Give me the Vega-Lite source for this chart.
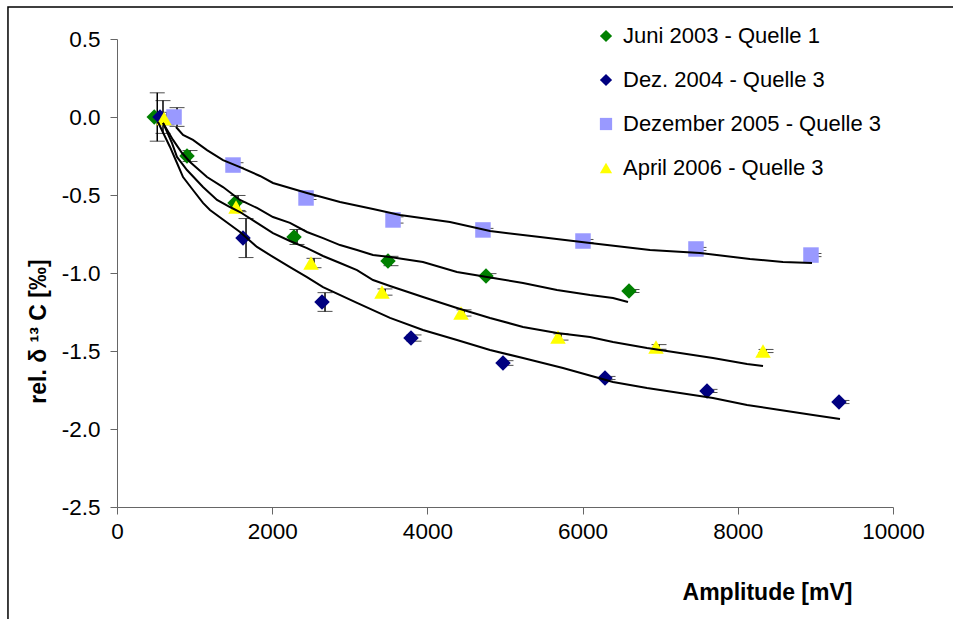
{
  "$schema": "https://vega.github.io/schema/vega-lite/v6.json",
  "width": 776,
  "height": 468,
  "autosize": "none",
  "padding": {"left": 117, "top": 39, "right": 60, "bottom": 112},
  "background": "white",
  "config": {
    "view": {"stroke": null},
    "font": "Liberation Sans",
    "locale": {"number": {"decimal": ".", "thousands": "", "grouping": [3], "currency": ["", ""], "minus": "-"}}
  },
  "datasets": {
    "pts": [
      {"series": "Juni 2003 - Quelle 1", "x": 480, "y": 0.0, "err": 0.155},
      {"series": "Juni 2003 - Quelle 1", "x": 902, "y": -0.25, "err": 0.035},
      {"series": "Juni 2003 - Quelle 1", "x": 1521, "y": -0.551, "err": 0.048},
      {"series": "Juni 2003 - Quelle 1", "x": 2281, "y": -0.769, "err": 0.048},
      {"series": "Juni 2003 - Quelle 1", "x": 3492, "y": -0.923, "err": 0.03},
      {"series": "Juni 2003 - Quelle 1", "x": 4755, "y": -1.019, "err": 0.015},
      {"series": "Juni 2003 - Quelle 1", "x": 6598, "y": -1.115, "err": 0.01},
      {"series": "Dez. 2004 - Quelle 3", "x": 554, "y": 0.0, "err": 0.105},
      {"series": "Dez. 2004 - Quelle 3", "x": 1624, "y": -0.776, "err": 0.125},
      {"series": "Dez. 2004 - Quelle 3", "x": 2642, "y": -1.186, "err": 0.06},
      {"series": "Dez. 2004 - Quelle 3", "x": 3789, "y": -1.417, "err": 0.02},
      {"series": "Dez. 2004 - Quelle 3", "x": 4974, "y": -1.577, "err": 0.015},
      {"series": "Dez. 2004 - Quelle 3", "x": 6289, "y": -1.673, "err": 0.01},
      {"series": "Dez. 2004 - Quelle 3", "x": 7603, "y": -1.756, "err": 0.01},
      {"series": "Dez. 2004 - Quelle 3", "x": 9304, "y": -1.827, "err": 0.01},
      {"series": "Dezember 2005 - Quelle 3", "x": 735, "y": 0.0, "err": 0.06},
      {"series": "Dezember 2005 - Quelle 3", "x": 1495, "y": -0.308, "err": 0.015},
      {"series": "Dezember 2005 - Quelle 3", "x": 2436, "y": -0.519, "err": 0.01},
      {"series": "Dezember 2005 - Quelle 3", "x": 3557, "y": -0.66, "err": 0.02},
      {"series": "Dezember 2005 - Quelle 3", "x": 4716, "y": -0.724, "err": 0.01},
      {"series": "Dezember 2005 - Quelle 3", "x": 6005, "y": -0.795, "err": 0.01},
      {"series": "Dezember 2005 - Quelle 3", "x": 7461, "y": -0.846, "err": 0.01},
      {"series": "Dezember 2005 - Quelle 3", "x": 8943, "y": -0.885, "err": 0.01},
      {"series": "April 2006 - Quelle 3", "x": 606, "y": -0.01, "err": 0.04},
      {"series": "April 2006 - Quelle 3", "x": 1534, "y": -0.577, "err": 0.03},
      {"series": "April 2006 - Quelle 3", "x": 2500, "y": -0.936, "err": 0.03},
      {"series": "April 2006 - Quelle 3", "x": 3415, "y": -1.122, "err": 0.02},
      {"series": "April 2006 - Quelle 3", "x": 4433, "y": -1.256, "err": 0.02},
      {"series": "April 2006 - Quelle 3", "x": 5683, "y": -1.41, "err": 0.02},
      {"series": "April 2006 - Quelle 3", "x": 6946, "y": -1.474, "err": 0.015},
      {"series": "April 2006 - Quelle 3", "x": 8325, "y": -1.5, "err": 0.01}
    ],
    "fits": [
      {"c": "p", "x": 760, "y": -0.064}, {"c": "p", "x": 851, "y": -0.115}, {"c": "p", "x": 979, "y": -0.147},
      {"c": "p", "x": 1160, "y": -0.212}, {"c": "p", "x": 1366, "y": -0.276}, {"c": "p", "x": 1585, "y": -0.321},
      {"c": "p", "x": 1843, "y": -0.378}, {"c": "p", "x": 2010, "y": -0.423}, {"c": "p", "x": 2448, "y": -0.487},
      {"c": "p", "x": 2874, "y": -0.545}, {"c": "p", "x": 3299, "y": -0.59}, {"c": "p", "x": 3647, "y": -0.628},
      {"c": "p", "x": 4291, "y": -0.673}, {"c": "p", "x": 4807, "y": -0.731}, {"c": "p", "x": 5451, "y": -0.769},
      {"c": "p", "x": 6095, "y": -0.808}, {"c": "p", "x": 6869, "y": -0.853}, {"c": "p", "x": 7513, "y": -0.872},
      {"c": "p", "x": 8157, "y": -0.91}, {"c": "p", "x": 8582, "y": -0.929}, {"c": "p", "x": 8956, "y": -0.936},
      {"c": "g", "x": 593, "y": -0.038}, {"c": "g", "x": 722, "y": -0.147}, {"c": "g", "x": 838, "y": -0.231},
      {"c": "g", "x": 941, "y": -0.288}, {"c": "g", "x": 1160, "y": -0.385}, {"c": "g", "x": 1366, "y": -0.449},
      {"c": "g", "x": 1585, "y": -0.532}, {"c": "g", "x": 1804, "y": -0.583}, {"c": "g", "x": 2010, "y": -0.641},
      {"c": "g", "x": 2229, "y": -0.679}, {"c": "g", "x": 2448, "y": -0.737}, {"c": "g", "x": 2655, "y": -0.776},
      {"c": "g", "x": 2874, "y": -0.821}, {"c": "g", "x": 3093, "y": -0.853}, {"c": "g", "x": 3299, "y": -0.885},
      {"c": "g", "x": 3518, "y": -0.897}, {"c": "g", "x": 3943, "y": -0.929}, {"c": "g", "x": 4381, "y": -0.994},
      {"c": "g", "x": 4768, "y": -1.026}, {"c": "g", "x": 5232, "y": -1.064}, {"c": "g", "x": 5670, "y": -1.109},
      {"c": "g", "x": 6095, "y": -1.141}, {"c": "g", "x": 6392, "y": -1.16}, {"c": "g", "x": 6585, "y": -1.186},
      {"c": "y", "x": 593, "y": -0.038}, {"c": "y", "x": 709, "y": -0.167}, {"c": "y", "x": 773, "y": -0.256},
      {"c": "y", "x": 902, "y": -0.34}, {"c": "y", "x": 1108, "y": -0.449}, {"c": "y", "x": 1289, "y": -0.532},
      {"c": "y", "x": 1456, "y": -0.577}, {"c": "y", "x": 1585, "y": -0.609}, {"c": "y", "x": 1804, "y": -0.679},
      {"c": "y", "x": 2010, "y": -0.744}, {"c": "y", "x": 2229, "y": -0.795}, {"c": "y", "x": 2448, "y": -0.84},
      {"c": "y", "x": 2655, "y": -0.891}, {"c": "y", "x": 2874, "y": -0.936}, {"c": "y", "x": 3093, "y": -0.981},
      {"c": "y", "x": 3299, "y": -1.045}, {"c": "y", "x": 3518, "y": -1.083}, {"c": "y", "x": 3943, "y": -1.154},
      {"c": "y", "x": 4381, "y": -1.224}, {"c": "y", "x": 4807, "y": -1.288}, {"c": "y", "x": 5232, "y": -1.346},
      {"c": "y", "x": 5670, "y": -1.385}, {"c": "y", "x": 6095, "y": -1.41}, {"c": "y", "x": 6392, "y": -1.442},
      {"c": "y", "x": 6830, "y": -1.481}, {"c": "y", "x": 7255, "y": -1.513}, {"c": "y", "x": 7680, "y": -1.545},
      {"c": "y", "x": 8119, "y": -1.583}, {"c": "y", "x": 8325, "y": -1.596},
      {"c": "b", "x": 528, "y": -0.032}, {"c": "b", "x": 683, "y": -0.192}, {"c": "b", "x": 773, "y": -0.295},
      {"c": "b", "x": 851, "y": -0.385}, {"c": "b", "x": 979, "y": -0.468}, {"c": "b", "x": 1108, "y": -0.551},
      {"c": "b", "x": 1198, "y": -0.596}, {"c": "b", "x": 1585, "y": -0.737}, {"c": "b", "x": 1804, "y": -0.833},
      {"c": "b", "x": 2010, "y": -0.897}, {"c": "b", "x": 2229, "y": -0.962}, {"c": "b", "x": 2448, "y": -1.026},
      {"c": "b", "x": 2655, "y": -1.09}, {"c": "b", "x": 3093, "y": -1.192}, {"c": "b", "x": 3518, "y": -1.288},
      {"c": "b", "x": 3943, "y": -1.365}, {"c": "b", "x": 4381, "y": -1.429}, {"c": "b", "x": 4807, "y": -1.494},
      {"c": "b", "x": 5232, "y": -1.545}, {"c": "b", "x": 5747, "y": -1.609}, {"c": "b", "x": 6392, "y": -1.699},
      {"c": "b", "x": 6830, "y": -1.737}, {"c": "b", "x": 7255, "y": -1.769}, {"c": "b", "x": 7680, "y": -1.801},
      {"c": "b", "x": 8119, "y": -1.846}, {"c": "b", "x": 8544, "y": -1.878}, {"c": "b", "x": 8969, "y": -1.91},
      {"c": "b", "x": 9317, "y": -1.936}
    ]
  },
  "layer": [
    {
      "data": {"values": [{}]},
      "mark": {"type": "rect", "fill": null, "stroke": "black", "strokeWidth": 1.5, "clip": false},
      "encoding": {
        "x": {"datum": -1405, "type": "quantitative", "title": "Amplitude [mV]"},
        "x2": {"datum": 12500},
        "y": {"datum": 0.705, "type": "quantitative", "title": "rel. δ ¹³ C [‰]"},
        "y2": {"datum": -3.6}
      }
    },
    {
      "data": {"name": "pts"},
      "mark": {"type": "errorbar", "color": "black", "ticks": {"size": 15, "xOffset": 3, "strokeWidth": 1.5}, "rule": {"xOffset": 3, "strokeWidth": 1.5}},
      "encoding": {
        "x": {"field": "x", "type": "quantitative", "title": "Amplitude [mV]"},
        "y": {"field": "y", "type": "quantitative", "title": "rel. δ ¹³ C [‰]"},
        "yError": {"field": "err"}
      }
    },
    {
      "data": {"name": "pts"},
      "mark": {"type": "point", "filled": true, "opacity": 1, "size": 240, "strokeWidth": 0},
      "encoding": {
        "x": {
          "field": "x", "type": "quantitative",
          "scale": {"domain": [0, 10000], "nice": false},
          "axis": {
            "values": [0, 2000, 4000, 6000, 8000, 10000], "format": "d", "grid": false,
            "title": "Amplitude [mV]", "domainColor": "#666", "tickColor": "#666", "tickSize": 7,
            "labelFontSize": 22.5, "labelColor": "black", "labelPadding": 6, "labelFlush": false,
            "titleFontSize": 23, "titleFontWeight": "bold", "titleColor": "black",
            "titleX": 650, "titleY": 85, "titleAlign": "center", "titleBaseline": "middle"
          }
        },
        "y": {
          "field": "y", "type": "quantitative",
          "scale": {"domain": [-2.5, 0.5], "nice": false},
          "axis": {
            "values": [-2.5, -2, -1.5, -1, -0.5, 0, 0.5], "format": ".1f", "grid": false,
            "title": "rel. δ ¹³ C [‰]", "domainColor": "#666", "tickColor": "#666", "tickSize": 7,
            "labelFontSize": 22.5, "labelColor": "black", "labelPadding": 10,
            "titleFontSize": 23, "titleFontWeight": "bold", "titleColor": "black",
            "titleX": -79, "titleY": 292, "titleAngle": -90, "titleAlign": "center", "titleBaseline": "middle"
          }
        },
        "color": {
          "field": "series", "type": "nominal",
          "scale": {
            "domain": ["Juni 2003 - Quelle 1", "Dez. 2004 - Quelle 3", "Dezember 2005 - Quelle 3", "April 2006 - Quelle 3"],
            "range": ["#008000", "#000080", "#9999FF", "#FFFF00"]
          },
          "legend": {
            "orient": "none", "legendX": 478, "legendY": -14, "title": null,
            "labelFontSize": 22, "labelColor": "black", "labelOffset": 6, "rowPadding": 22, "labelLimit": 0,
            "symbolSize": 150, "symbolStrokeWidth": 0, "symbolOpacity": 1, "padding": 0
          }
        },
        "shape": {
          "field": "series", "type": "nominal",
          "scale": {
            "domain": ["Juni 2003 - Quelle 1", "Dez. 2004 - Quelle 3", "Dezember 2005 - Quelle 3", "April 2006 - Quelle 3"],
            "range": ["diamond", "diamond", "square", "triangle-up"]
          },
          "legend": {
            "orient": "none", "legendX": 478, "legendY": -14, "title": null,
            "labelFontSize": 22, "labelColor": "black", "labelOffset": 6, "rowPadding": 22, "labelLimit": 0,
            "symbolSize": 150, "symbolStrokeWidth": 0, "symbolOpacity": 1, "padding": 0
          }
        }
      }
    },
    {
      "data": {"name": "fits"},
      "mark": {"type": "line", "color": "black", "strokeWidth": 2},
      "encoding": {
        "x": {"field": "x", "type": "quantitative", "title": "Amplitude [mV]"},
        "y": {"field": "y", "type": "quantitative", "title": "rel. δ ¹³ C [‰]"},
        "detail": {"field": "c", "type": "nominal"}
      }
    }
  ]
}
